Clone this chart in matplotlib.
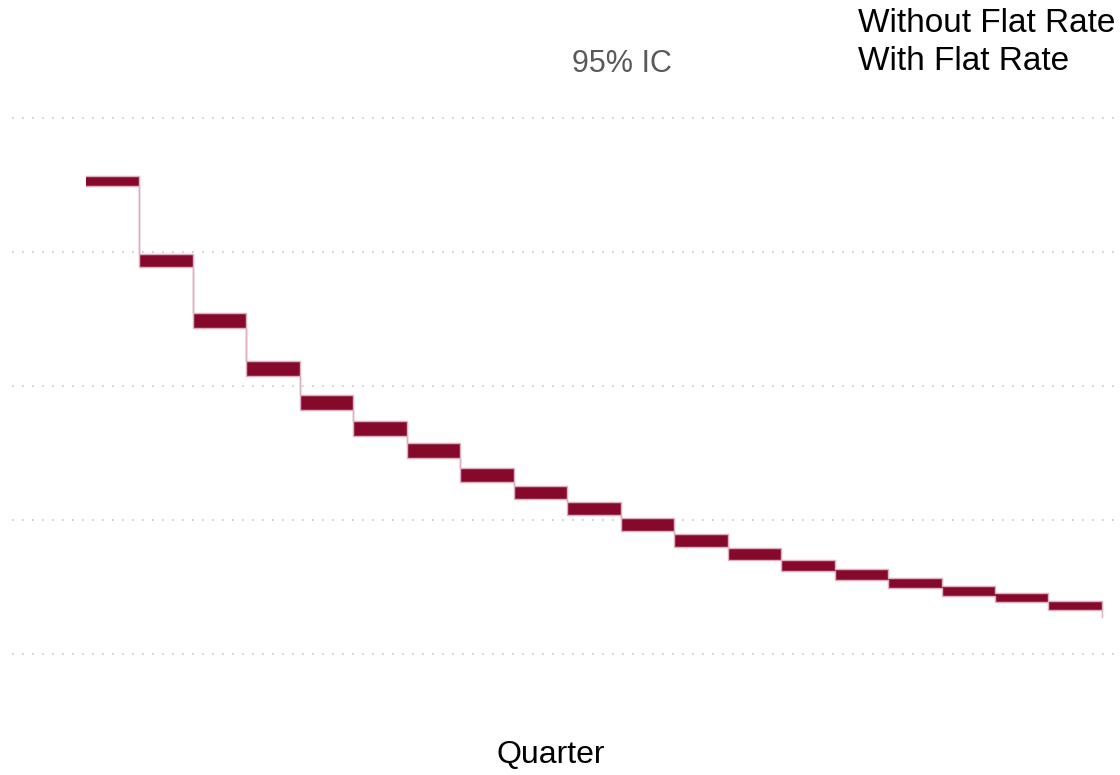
import numpy as np
import matplotlib
matplotlib.use("Agg")
import matplotlib.pyplot as plt

plt.rcParams['font.family'] = ['Liberation Sans', 'DejaVu Sans']

quarters = np.arange(1, 21)
# 95% confidence bounds (identical for both series)
upper = [0.913, 0.797, 0.709, 0.638, 0.587, 0.548, 0.515, 0.477, 0.451, 0.427,
         0.403, 0.379, 0.358, 0.340, 0.327, 0.314, 0.302, 0.291, 0.279, 0.267]
lower = [0.899, 0.777, 0.687, 0.615, 0.564, 0.526, 0.493, 0.456, 0.431, 0.408,
         0.384, 0.360, 0.340, 0.324, 0.311, 0.298, 0.286, 0.277, 0.266, 0.255]
series = ["Without Flat Rate", "With Flat Rate"]
grid_vals = [0.2, 0.4, 0.6, 0.8, 1.0]

fill_color = '#86092c'
edge_color = '#dcb0bf'

fig = plt.figure(figsize=(11.2, 7.75), dpi=100)
ax = fig.add_axes([12 / 1120, 95 / 775, 1106 / 1120, 580 / 775])

for name in series:
    ax.fill_between(quarters, lower, upper, step='post', color=fill_color, linewidth=0)
    ax.step(quarters, upper, where='post', color=edge_color, linewidth=0.9)
    ax.step(quarters, lower, where='post', color=edge_color, linewidth=0.9)

ax.set_xlim(-0.384, 20.3)
ax.set_ylim(0.1612, 1.0269)
ax.set_yticks(grid_vals)
ax.set_xticks([])
ax.tick_params(length=0, labelleft=False)
ax.grid(axis='y', color='#c8c8c8', linestyle=(0, (1, 5)), linewidth=1.2)
ax.set_axisbelow(True)
for s in ax.spines.values():
    s.set_visible(False)

fig.text(551 / 1120, 1 - 755 / 775, "Quarter", fontsize=23, ha='center', va='center')
fig.text(622 / 1120, 1 - 64 / 775, "95% IC", fontsize=22, color='#595959',
         ha='center', va='center')
fig.text(858 / 1120, 1 - 23 / 775, series[0], fontsize=24, ha='left', va='center')
fig.text(858 / 1120, 1 - 61 / 775, series[1], fontsize=24, ha='left', va='center')

fig.savefig("out.png", dpi=100)
